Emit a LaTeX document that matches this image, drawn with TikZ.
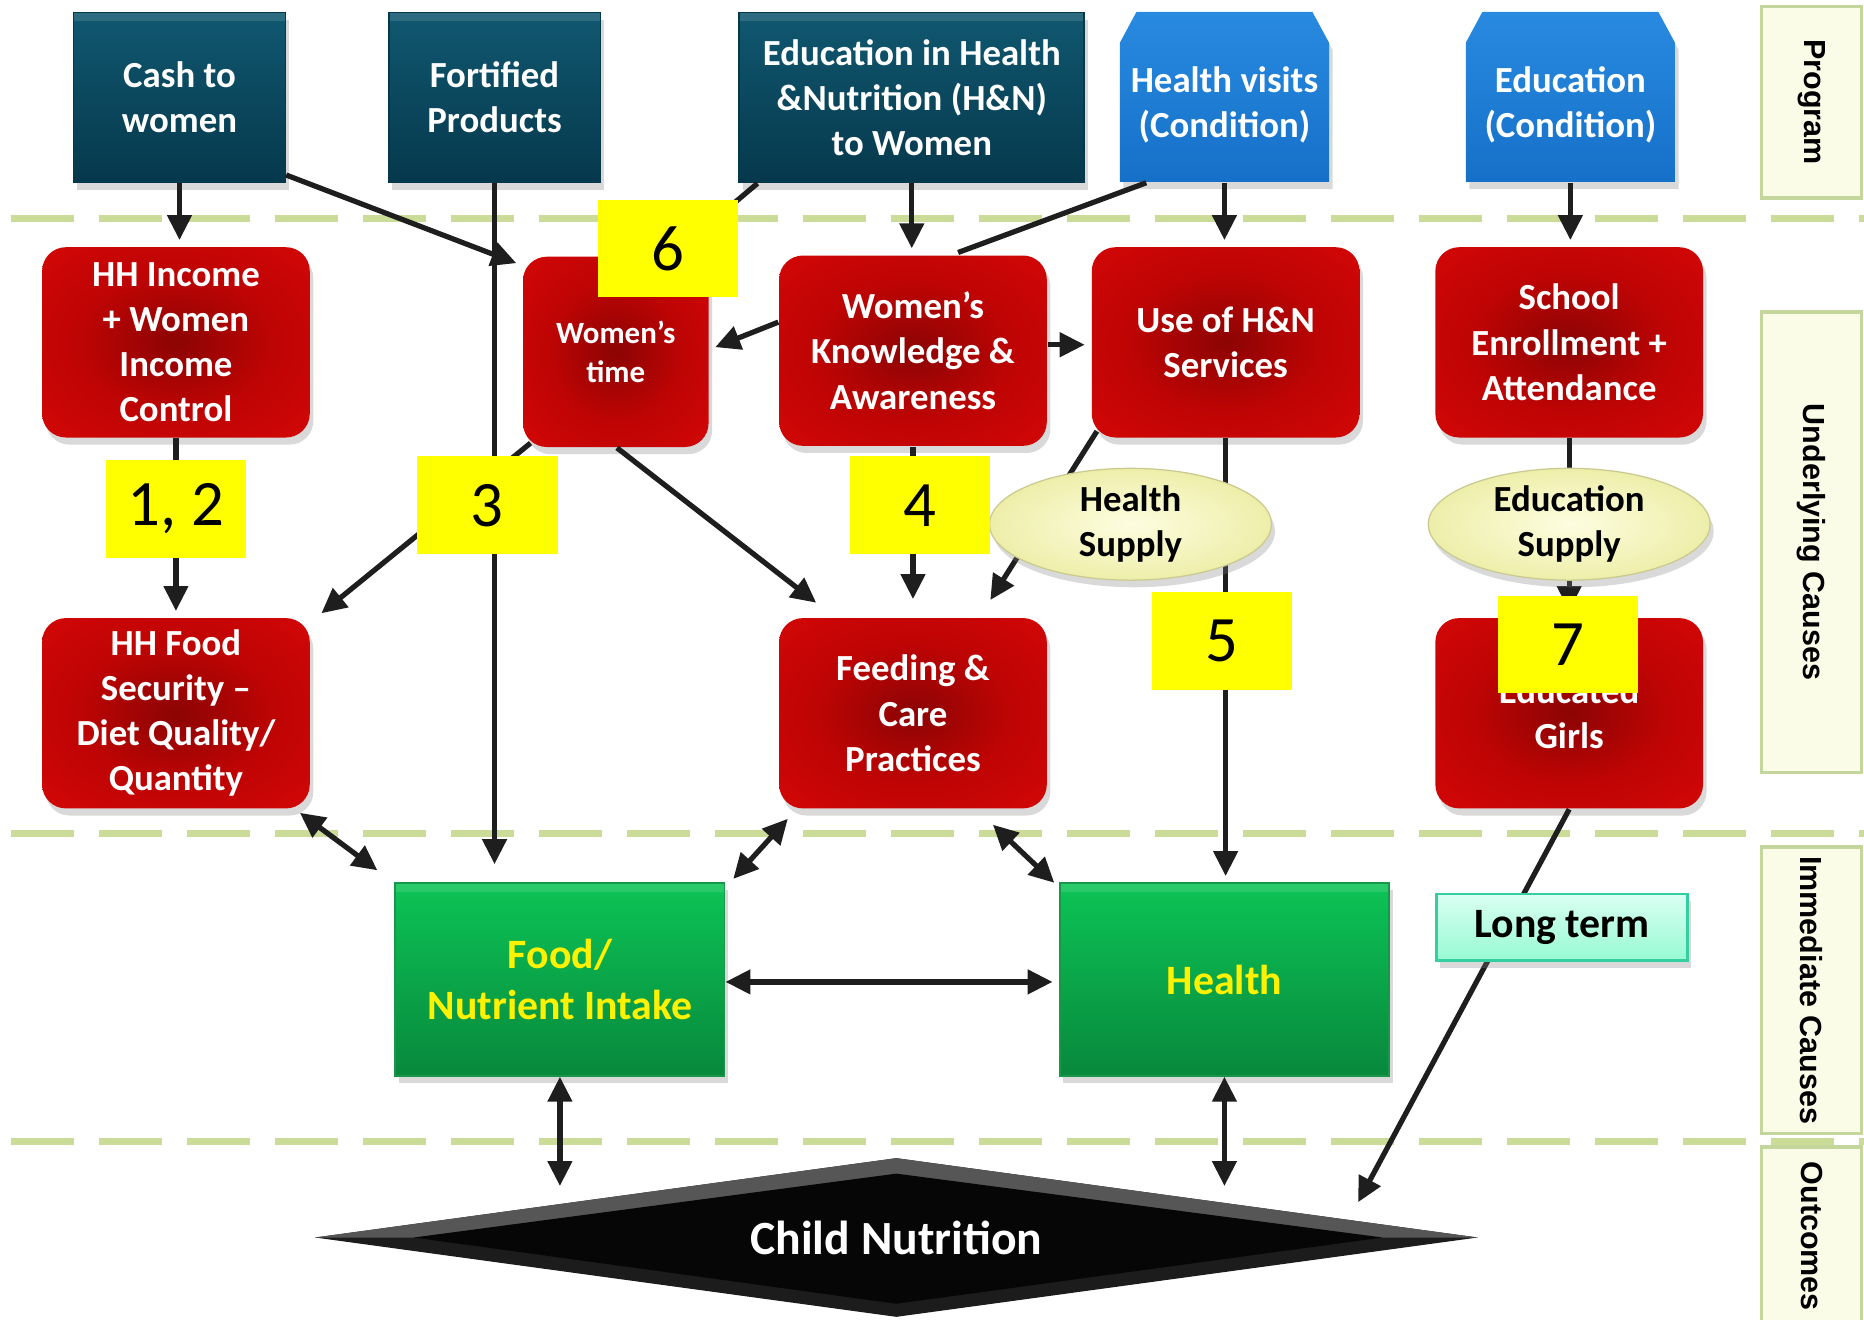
\documentclass[tikz,border=0pt]{standalone}
\usepackage{fontspec}
\setmainfont{Carlito}
\newfontfamily\sidefont{Liberation Sans}
\usepackage{tikz}
\usetikzlibrary{arrows.meta,shapes,shadows}

\definecolor{ink}{RGB}{30,30,30}
\definecolor{sepgreen}{RGB}{202,220,152}
\definecolor{progA}{RGB}{16,88,112}
\definecolor{progB}{RGB}{6,56,76}
\definecolor{condA}{RGB}{40,138,224}
\definecolor{condB}{RGB}{22,112,200}
\definecolor{redA}{RGB}{140,4,4}
\definecolor{redM}{RGB}{190,4,4}
\definecolor{redB}{RGB}{228,8,8}
\definecolor{grnA}{RGB}{12,196,86}
\definecolor{grnB}{RGB}{8,136,60}
\definecolor{grnL}{RGB}{24,150,74}
\definecolor{supA}{RGB}{253,253,224}
\definecolor{supB}{RGB}{238,238,170}
\definecolor{numyellow}{RGB}{255,255,0}
\definecolor{ltA}{RGB}{218,255,242}
\definecolor{ltB}{RGB}{150,250,212}
\definecolor{ltL}{RGB}{52,206,160}
\definecolor{sideA}{RGB}{250,252,232}
\definecolor{sideL}{RGB}{196,214,155}
\definecolor{cnA}{RGB}{28,28,28}
\definecolor{cnB}{RGB}{86,86,86}
\definecolor{cnC}{RGB}{6,6,6}

\pgfdeclareradialshading{redglow}{\pgfpoint{0bp}{0bp}}{color(0bp)=(redA); color(18bp)=(redM); color(50bp)=(redB)}

\begin{document}
\begin{tikzpicture}[x=0.01cm, y=-0.01cm,
	basic/.style   = {align=center, inner sep=0pt, drop shadow={shadow xshift=0.03cm, shadow yshift=-0.06cm, opacity=0.3}},
	bevel/.style   = {path picture={\fill[white, opacity=0.12] (path picture bounding box.north west) rectangle ([yshift=-0.07cm]path picture bounding box.north east);}},
	prog/.style    = {basic, bevel, rectangle, top color=progA, bottom color=progB, draw=progB, text=white, minimum width=1.78cm, minimum height=1.43cm, font=\bfseries\fontsize{8.8}{10.8}\selectfont},
	cond/.style    = {top color=condA, bottom color=condB, drop shadow={shadow xshift=0.03cm, shadow yshift=-0.06cm, opacity=0.3}},
	condtext/.style = {align=center, inner sep=0pt, text=white, minimum width=1.76cm, minimum height=1.3cm, font=\bfseries\fontsize{8.8}{10.8}\selectfont},
	cause/.style   = {basic, rectangle, rounded corners=0.2cm, shade, shading=redglow, text=white, minimum width=2.25cm, minimum height=1.6cm, font=\bfseries\fontsize{8.8}{10.8}\selectfont},
	immed/.style   = {basic, bevel, rectangle, top color=grnA, bottom color=grnB, draw=grnL, text=yellow, minimum width=2.77cm, minimum height=1.62cm, font=\bfseries\fontsize{10}{12.2}\selectfont},
	supply/.style  = {basic, ellipse, inner color=supA, outer color=supB, draw=supB!85!black, line width=0.3pt, minimum width=2.37cm, minimum height=0.94cm, font=\bfseries\fontsize{8.8}{10.8}\selectfont},
	num/.style     = {rectangle, fill=numyellow, inner sep=0pt, minimum width=1.18cm, minimum height=0.82cm, font=\fontsize{15.5}{18}\selectfont},
	sidebox/.style = {rectangle, rotate=-90, fill=sideA, draw=sideL, line width=0.8pt, inner sep=0pt, minimum height=0.84cm, font=\sidefont\bfseries\fontsize{7.3}{9}\selectfont},
	outcome/.style = {diamond, aspect=7.3, inner sep=0pt, minimum width=9.78cm, minimum height=1.34cm, fill=cnA, text=white, font=\bfseries\fontsize{11.4}{13.7}\selectfont,
		path picture={
			\fill[cnB] (path picture bounding box.west) -- (path picture bounding box.north) -- (path picture bounding box.east) -- cycle;
			\fill[cnC] ([xshift=0.83cm]path picture bounding box.west) -- ([yshift=-0.13cm]path picture bounding box.north) -- ([xshift=-0.8cm]path picture bounding box.east) -- ([yshift=0.11cm]path picture bounding box.south) -- cycle;}},
	lterm/.style   = {basic, rectangle, top color=ltA, bottom color=ltB, draw=ltL, line width=0.6pt, minimum width=2.11cm, minimum height=0.56cm, font=\bfseries\fontsize{10}{12}\selectfont},
	conn/.style    = {draw=ink, line width=1.25pt, shorten >=1.5pt},
	sepline/.style = {draw=sepgreen, line width=0.06cm, dash pattern=on 0.53cm off 0.21cm},
	>={Triangle[length=0.21cm,width=0.2cm]}]

	\useasboundingbox (0,0) rectangle (1568,1110);

	% dashed separators between the levels
	\foreach \py in {184,701,960}
	\draw[sepline] (9,\py) -- (1568,\py);

	% program level
	\node[prog] (cw) at (151,82) {Cash to\\women};
	\node[prog] (fp) at (416,82) {Fortified\\Products};
	\node[prog, minimum width=2.9cm] (eh) at (767,82) {Education in Health\\\&Nutrition (H\&N)\\to Women};
	\foreach \cx in {1030,1321}
	\path[cond] (\cx-88,153) -- (\cx-88,36) -- (\cx-74,10) -- (\cx+74,10) -- (\cx+88,36) -- (\cx+88,153) -- cycle;
	\node[condtext] (hv) at (1030,88) {Health visits\\(Condition)};
	\node[condtext] (ec) at (1321,88) {Education\\(Condition)};

	% underlying causes
	\node[cause] (hi) at (148,288) {HH Income\\+ Women\\Income\\Control};
	\node[cause, minimum width=1.56cm, font=\bfseries\fontsize{7.4}{9.1}\selectfont] (wt) at (518,296) {Women’s\\time};
	\node[cause] (wk) at (768,295) {Women’s\\Knowledge \&\\Awareness};
	\node[cause] (us) at (1031,288) {Use of H\&N\\Services};
	\node[cause] (se) at (1320,288) {School\\Enrollment +\\Attendance};
	\node[cause] (hf) at (148,600) {HH Food\\Security –\\Diet Quality/\\Quantity};
	\node[cause] (fc) at (768,600) {Feeding \&\\Care\\Practices};
	\node[cause] (eg) at (1320,600) {Educated\\Girls};

	% immediate causes and outcome
	\node[immed] (fi) at (471,824) {Food/\\Nutrient Intake};
	\node[immed] (he) at (1030,824) {Health};
	\node[outcome] (cn) at (754,1041) {Child Nutrition};

	% level names on the right
	\node[sidebox, minimum width=1.61cm] (lp) at (1524,86) {Program};
	\node[sidebox, minimum width=3.87cm] (lu) at (1524,456) {Underlying Causes};
	\node[sidebox, minimum width=2.41cm] (li) at (1524,833) {Immediate Causes};
	\node[sidebox, minimum width=1.5cm] (lo) at (1524,1040) {Outcomes};

	% arrows from the program boxes
	\draw[conn,->] (cw.south) -- (cw.south |- hi.north);
	\draw[conn,->] ([yshift=0.07cm]cw.south east) -- ([yshift=-0.08cm]wt.north west);
	\draw[conn,->] (fp.south) -- ([yshift=0.1cm]fp.south |- fi.north);
	\draw[conn,->] ([xshift=0.16cm]eh.south west) -- ([xshift=-0.2cm,yshift=0.1cm]wt.north east);
	\draw[conn,->] (eh.south) -- (eh.south |- wk.north);
	\draw[conn] ([xshift=0.23cm]hv.south west) -- ([xshift=0.33cm]wk.north);
	\draw[conn,->] (hv.south) -- (hv.south |- us.north);
	\draw[conn,->] (ec.south) -- (ec.south |- se.north);

	% arrows between the underlying causes
	\draw[conn,->] ([yshift=0.24cm]wk.west) -- ([yshift=0.02cm]wt.east);
	\draw[conn,->] ([yshift=0.05cm]wk.east) -- ([yshift=0.05cm]wk.east -| us.west);
	\draw[conn,->] (hi.south) -- (hi.south |- hf.north);
	\draw[conn,->] ([xshift=0.07cm,yshift=0.04cm]wt.south west) -- ([xshift=0.05cm]hf.north east);
	\draw[conn,->] ([xshift=0.01cm]wt.south) -- ([xshift=0.36cm,yshift=0.09cm]fc.north west);
	\draw[conn,->] (wk.south) -- ([yshift=0.1cm]wk.south |- fc.north);
	\draw[conn,->] ([xshift=0.05cm,yshift=0.06cm]us.south west) -- ([xshift=-0.51cm,yshift=0.1cm]fc.north east);
	\draw[conn,->] (us.south) -- (us.south |- he.north);
	\draw[conn,->] (se.south) -- (se.south |- eg.north);
	\draw[conn,->] (eg.south) -- ([xshift=-1.04cm,yshift=0.25cm]cn.east);

	% two-way arrows round the immediate causes
	\draw[conn,<->] ([xshift=-0.09cm,yshift=-0.03cm]hf.south east) -- ([xshift=-0.1cm,yshift=0.07cm]fi.north west);
	\draw[conn,<->] ([xshift=0.08cm,yshift=-0.08cm]fc.south west) -- ([xshift=0.03cm,yshift=-0.01cm]fi.north east);
	\draw[conn,<->] ([xshift=-0.46cm,yshift=-0.13cm]fc.south east) -- ([yshift=-0.04cm]he.north west);
	\draw[conn,<->] ([yshift=-0.02cm]fi.east) -- ([yshift=-0.02cm]he.west);
	\draw[conn,<->] (fi.south) -- ([yshift=0.38cm]fi.south |- cn.center);
	\draw[conn,<->] (he.south) -- ([yshift=0.38cm]he.south |- cn.center);

	% supply ovals, numbers and the long term box lie over the arrows
	\node[supply] (hs) at (951,441) {Health\\Supply};
	\node[supply] (es) at (1320,441) {Education\\Supply};
	\foreach \nm/\px/\py/\txt in {n12/148/428/{1, 2}, n3/410/425/3, n4/774/425/4, n5/1028/539/5, n6/562/209/6, n7/1319/542/7}
	\node[num] (\nm) at (\px,\py) {\txt};
	\node[lterm] (lt) at (1314,780) {Long term};

\end{tikzpicture}
\end{document}
